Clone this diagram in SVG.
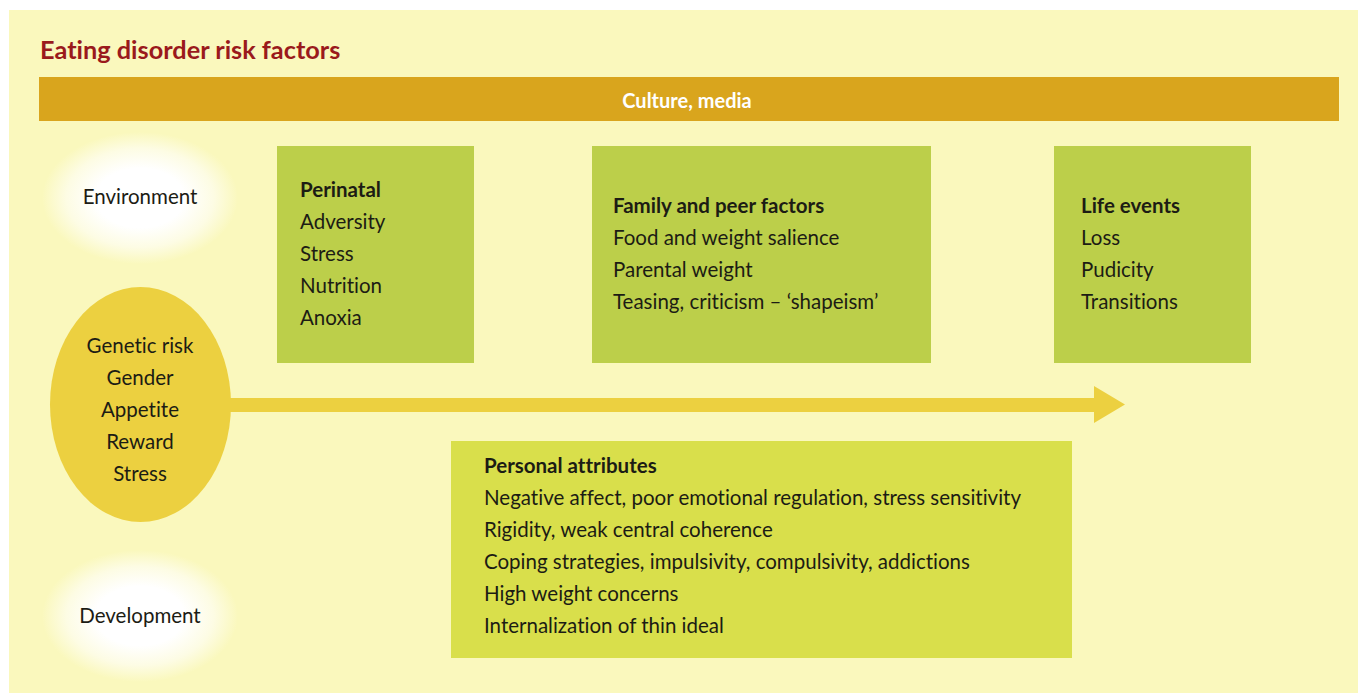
<svg xmlns="http://www.w3.org/2000/svg" width="1358" height="693" viewBox="0 0 1358 693">
  <defs>
    <radialGradient id="glow" cx="0.5" cy="0.5" r="0.5">
      <stop offset="0" stop-color="#ffffff"/>
      <stop offset="0.45" stop-color="#ffffff"/>
      <stop offset="0.75" stop-color="#fdfce4"/>
      <stop offset="1" stop-color="#faf8bd"/>
    </radialGradient>
    <style>
      .panel { fill: #faf8bd; }
      .band { fill: #d9a51d; }
      .box { fill: #bccf4a; }
      .box-light { fill: #d9df4b; }
      .gold { fill: #ecd040; }
      text { font-family: Lato, "Open Sans", sans-serif; font-size: 20.5px; fill: #1c1c14;
             font-variant-ligatures: none; font-feature-settings: "liga" 0, "clig" 0; }
      .head { font-weight: bold; }
      .mid { text-anchor: middle; }
      .title { font-size: 25.3px; font-weight: bold; fill: #9a1a1c; }
      .band-label { font-size: 20px; font-weight: bold; fill: #ffffff; text-anchor: middle; }
    </style>
  </defs>

  <!-- page -->
  <rect width="1358" height="693" fill="#ffffff"/>
  <rect class="panel" x="9" y="10" width="1349" height="683"/>

  <text class="title" x="40" y="59">Eating disorder risk factors</text>

  <g id="culture-media">
    <rect class="band" x="39" y="77" width="1300" height="44"/>
    <text class="band-label" x="687" y="108">Culture, media</text>
  </g>

  <g id="environment">
    <ellipse cx="140" cy="198" rx="98" ry="66" fill="url(#glow)"/>
    <text class="mid" x="140" y="204">Environment</text>
  </g>

  <g id="development">
    <ellipse cx="140" cy="616" rx="98" ry="66" fill="url(#glow)"/>
    <text class="mid" x="140" y="623">Development</text>
  </g>

  <!-- connectors -->
  <g id="connectors">
    <path class="gold" d="M225 398 H1094 V386 L1125 404.5 L1094 423 V412 H225 Z"/>
  </g>

  <g id="biology">
    <ellipse class="gold" cx="140.5" cy="404.5" rx="90.5" ry="117.5"/>
    <text class="mid" x="140" y="353">Genetic risk</text>
    <text class="mid" x="140" y="385">Gender</text>
    <text class="mid" x="140" y="417">Appetite</text>
    <text class="mid" x="140" y="449">Reward</text>
    <text class="mid" x="140" y="481">Stress</text>
  </g>

  <g id="perinatal">
    <rect class="box" x="277" y="146" width="197" height="217"/>
    <text class="head" x="300" y="197">Perinatal</text>
    <text x="300" y="229">Adversity</text>
    <text x="300" y="261">Stress</text>
    <text x="300" y="293">Nutrition</text>
    <text x="300" y="325">Anoxia</text>
  </g>

  <g id="family-peer">
    <rect class="box" x="592" y="146" width="339" height="217"/>
    <text class="head" x="613" y="213">Family and peer factors</text>
    <text x="613" y="245">Food and weight salience</text>
    <text x="613" y="277">Parental weight</text>
    <text x="613" y="309">Teasing, criticism – ‘shapeism’</text>
  </g>

  <g id="life-events">
    <rect class="box" x="1054" y="146" width="197" height="217"/>
    <text class="head" x="1081" y="213">Life events</text>
    <text x="1081" y="245">Loss</text>
    <text x="1081" y="277">Pudicity</text>
    <text x="1081" y="309">Transitions</text>
  </g>

  <g id="personal-attributes">
    <rect class="box-light" x="451" y="441" width="621" height="217"/>
    <text class="head" x="484" y="473">Personal attributes</text>
    <text x="484" y="505">Negative affect, poor emotional regulation, stress sensitivity</text>
    <text x="484" y="537">Rigidity, weak central coherence</text>
    <text x="484" y="569">Coping strategies, impulsivity, compulsivity, addictions</text>
    <text x="484" y="601">High weight concerns</text>
    <text x="484" y="633">Internalization of thin ideal</text>
  </g>
</svg>
